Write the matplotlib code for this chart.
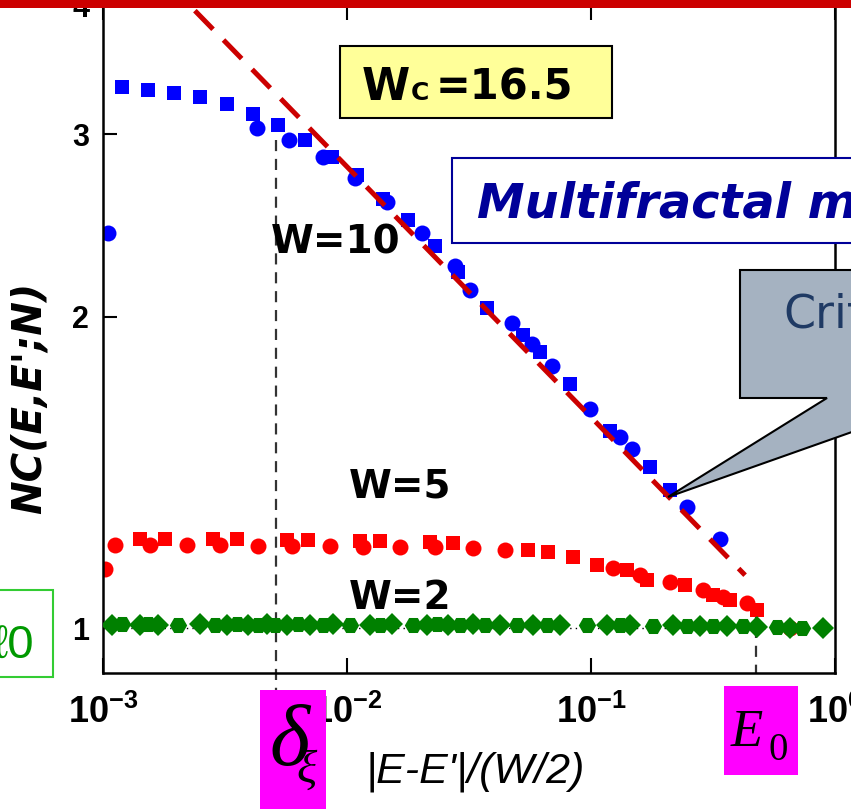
import numpy as np
import matplotlib.pyplot as plt
from matplotlib.patches import Rectangle, Polygon
from matplotlib.ticker import FixedLocator, FuncFormatter, NullLocator

plt.rcParams['font.family'] = ['Liberation Sans', 'DejaVu Sans']
plt.rcParams['mathtext.fontset'] = 'custom'
plt.rcParams['mathtext.rm'] = 'Liberation Sans:bold'
plt.rcParams['mathtext.bf'] = 'Liberation Sans:bold'

# W=10 (blue), two system sizes
w10_sq_x = [0.00120, 0.00153, 0.00195, 0.00250, 0.00322, 0.00412, 0.00521, 0.00673,
            0.00869, 0.0110, 0.0141, 0.0178, 0.0230, 0.0285, 0.0375, 0.0526, 0.0618,
            0.0820, 0.120, 0.175, 0.211]
w10_sq_y = [3.33, 3.31, 3.29, 3.26, 3.21, 3.14, 3.06, 2.96,
            2.85, 2.74, 2.60, 2.48, 2.34, 2.21, 2.04, 1.92, 1.85,
            1.72, 1.55, 1.43, 1.36]
w10_ci_x = [0.00105, 0.00428, 0.00578, 0.00798, 0.0108, 0.0146, 0.0203, 0.0277, 0.0319,
            0.0474, 0.0573, 0.0692, 0.0991, 0.1315, 0.147, 0.247, 0.338]
w10_ci_y = [2.41, 3.04, 2.96, 2.85, 2.72, 2.58, 2.41, 2.24, 2.12,
            1.97, 1.88, 1.79, 1.63, 1.53, 1.49, 1.31, 1.22]

# W=5 (red)
w5_sq_x = [0.00142, 0.00179, 0.00282, 0.00354, 0.00568, 0.00692, 0.0113, 0.0136, 0.0219,
           0.0272, 0.0552, 0.0667, 0.0844, 0.106, 0.141, 0.170, 0.243, 0.316, 0.371, 0.479]
w5_sq_y = [1.219, 1.219, 1.219, 1.219, 1.216, 1.216, 1.213, 1.213, 1.210,
           1.208, 1.189, 1.184, 1.171, 1.150, 1.137, 1.112, 1.100, 1.076, 1.064, 1.041]
w5_ci_x = [0.00102, 0.00112, 0.00156, 0.00221, 0.00302, 0.00431, 0.00595, 0.00851, 0.0116,
           0.0165, 0.0230, 0.0328, 0.0444, 0.123, 0.159, 0.211, 0.288, 0.347, 0.436, 0.655]
w5_ci_y = [1.140, 1.203, 1.203, 1.203, 1.203, 1.200, 1.200, 1.200, 1.197,
           1.197, 1.197, 1.195, 1.189, 1.143, 1.125, 1.108, 1.088, 1.071, 1.057, 1.000]

# W=2 (green)
w2_x = [0.00109, 0.00120, 0.00142, 0.00153, 0.00168, 0.00203, 0.00250, 0.00288, 0.00322,
        0.00354, 0.00393, 0.00431, 0.00470, 0.00507, 0.00568, 0.00630, 0.00705, 0.00798,
        0.00877, 0.0103, 0.0124, 0.0136, 0.0153, 0.0186, 0.0213, 0.0234, 0.0259, 0.0290,
        0.0328, 0.0368, 0.0424, 0.0498, 0.0578, 0.0661, 0.0747, 0.0964, 0.116, 0.132,
        0.145, 0.180, 0.217, 0.247, 0.280, 0.316, 0.361, 0.420, 0.479, 0.578, 0.655,
        0.733, 0.893]
w2_y = [1.008, 1.009, 1.007, 1.009, 1.006, 1.008, 1.009, 1.007, 1.008,
        1.009, 1.008, 1.006, 1.009, 1.008, 1.007, 1.009, 1.008, 1.007,
        1.009, 1.008, 1.006, 1.008, 1.009, 1.007, 1.008, 1.009, 1.007, 1.008,
        1.009, 1.007, 1.008, 1.006, 1.008, 1.007, 1.008, 1.006, 1.007, 1.006,
        1.007, 1.005, 1.006, 1.005, 1.004, 1.005, 1.004, 1.004, 1.003, 1.002, 1.000,
        1.001, 1.000]

# critical power law
fit_x = [0.00238, 0.428]
fit_y = [3.95, 1.125]

delta_xi = 0.00512
e0 = 0.474

W, H = 851, 809
fig = plt.figure(figsize=(W / 100, H / 100), dpi=100)


def fx(p):
    return p / W


def fy(p):
    return 1 - p / H


ax = fig.add_axes([fx(103), fy(673), fx(835) - fx(103), fy(5) - fy(673)])
ax.set_xscale('log')
ax.set_yscale('log')
ax.set_xlim(1e-3, 1)
ax.set_ylim(0.905, 4.0)

ax.axhline(1, color='black', lw=1, ls=(0, (1, 3)), zorder=1)
ax.plot(w10_sq_x, w10_sq_y, 's', color='#0000FF', ms=10.5, mew=0, zorder=2)
ax.plot(w10_ci_x, w10_ci_y, 'o', color='#0000FF', ms=11.5, mew=0, zorder=2)
ax.plot(fit_x, fit_y, color='#CC0000', lw=3.6, dashes=(5.2, 3.0), zorder=3)
ax.plot(w5_sq_x, w5_sq_y, 's', color='#FF0000', ms=10.5, mew=0, zorder=2)
ax.plot(w5_ci_x, w5_ci_y, 'o', color='#FF0000', ms=11.5, mew=0, zorder=2)
ax.plot(w2_x[::2], w2_y[::2], 'D', color='#008000', ms=11, mew=0, zorder=4)
ax.plot(w2_x[1::2], w2_y[1::2], 'H', color='#008000', ms=12.5, mew=0, zorder=4)

ax.plot([delta_xi, delta_xi], [2.96, 0.87], color='#333333', lw=1.6,
        dashes=(5, 3.5), clip_on=False, zorder=1)
ax.plot([e0, e0], [1.045, 0.905], color='#333333', lw=1.6,
        dashes=(5, 3.5), clip_on=False, zorder=1)

for s in ax.spines.values():
    s.set_linewidth(1.8)

ax.xaxis.set_major_locator(FixedLocator([1e-3, 1e-2, 1e-1, 1]))
ax.xaxis.set_minor_locator(NullLocator())
ax.xaxis.set_major_formatter(FuncFormatter(lambda v, p: r'$\mathbf{10^{%d}}$' % round(np.log10(v))))
ax.yaxis.set_major_locator(FixedLocator([1, 2, 3, 4]))
ax.yaxis.set_minor_locator(NullLocator())
ax.yaxis.set_major_formatter(FuncFormatter(lambda v, p: '%d' % round(v)))
ax.tick_params(axis='x', direction='in', length=11, width=1.5, top=True,
               labelsize=26, pad=16)
ax.tick_params(axis='y', direction='in', length=10, width=1.5,
               labelsize=22, pad=10)
for t in ax.get_yticklabels():
    t.set_fontweight('bold')

fig.text(fx(30), fy(398), "NC(E,E';N)", rotation=90, ha='center', va='center',
         fontsize=29, fontweight='bold', style='italic', family='DejaVu Sans')
fig.text(fx(475), fy(772), "|E-E'|/(W/2)", ha='center', va='center',
         fontsize=31, style='italic')

lab = dict(ha='center', va='center', fontsize=28, fontweight='bold', family='DejaVu Sans')
fig.text(fx(336), fy(243), 'W=10', **lab)
fig.text(fx(400), fy(487), 'W=5', **lab)
fig.text(fx(400), fy(598), 'W=2', **lab)

# top bar
fig.patches.append(Rectangle((0, fy(7.5)), 1, fy(0) - fy(7.5), transform=fig.transFigure,
                             facecolor='#CC0000', edgecolor='none', zorder=5))

# Wc box
fig.patches.append(Rectangle((fx(340), fy(118)), fx(612) - fx(340), fy(46) - fy(118),
                             transform=fig.transFigure, facecolor='#FFFF99',
                             edgecolor='black', lw=1.5))
fig.text(fx(362), fy(100), 'W', fontsize=31.5, fontweight='bold', family='DejaVu Sans', va='baseline')
fig.text(fx(411), fy(100), 'C', fontsize=18, fontweight='bold', family='DejaVu Sans', va='baseline')
fig.text(fx(436), fy(100), '=16.5', fontsize=30, fontweight='bold', family='DejaVu Sans', va='baseline')

# multifractal box
fig.patches.append(Rectangle((fx(452), fy(243)), fx(900) - fx(452), fy(158) - fy(243),
                             transform=fig.transFigure, facecolor='white',
                             edgecolor='#000099', lw=1.5))
fig.text(fx(477), fy(218), 'Multifractal metal', fontsize=34.5, fontweight='bold',
         style='italic', family='DejaVu Sans', color='#000099', va='baseline')

# callout
pts = [(740, 270), (900, 270), (900, 415), (668, 497), (827, 398), (740, 398)]
fig.patches.append(Polygon([(fx(a), fy(b)) for a, b in pts], closed=True,
                           transform=fig.transFigure, facecolor='#A5B2C1',
                           edgecolor='black', lw=1.5))
fig.text(fx(783), fy(328), 'Critical', fontsize=33, family='DejaVu Sans',
         color='#1F3A64', va='baseline')

# magenta markers
fig.patches.append(Rectangle((fx(260), fy(815)), fx(326) - fx(260), fy(690) - fy(815),
                             transform=fig.transFigure, facecolor='#FF00FF', edgecolor='none'))
fig.text(fx(269), fy(765), 'δ', fontsize=62, style='italic', family='Liberation Serif', va='baseline')
fig.text(fx(296), fy(783), 'ξ', fontsize=34, style='italic', family='Liberation Serif', va='baseline')
fig.patches.append(Rectangle((fx(724), fy(775)), fx(798) - fx(724), fy(686) - fy(775),
                             transform=fig.transFigure, facecolor='#FF00FF', edgecolor='none'))
fig.text(fx(731), fy(746), 'E', fontsize=38, style='italic', family='Liberation Serif', va='baseline')
fig.text(fx(768), fy(760), '0', fontsize=28, family='Liberation Serif', va='baseline')

# green box at left
fig.patches.append(Rectangle((fx(-5), fy(677)), fx(53) + 5 / W, fy(590) - fy(677),
                             transform=fig.transFigure, facecolor='white',
                             edgecolor='#33CC33', lw=1.5))
fig.text(fx(34), fy(659), 'ℓ0', fontsize=34, family=['Liberation Sans', 'DejaVu Sans'],
         color='#009900', ha='right', va='baseline')

fig.savefig('out.png', dpi=100)
